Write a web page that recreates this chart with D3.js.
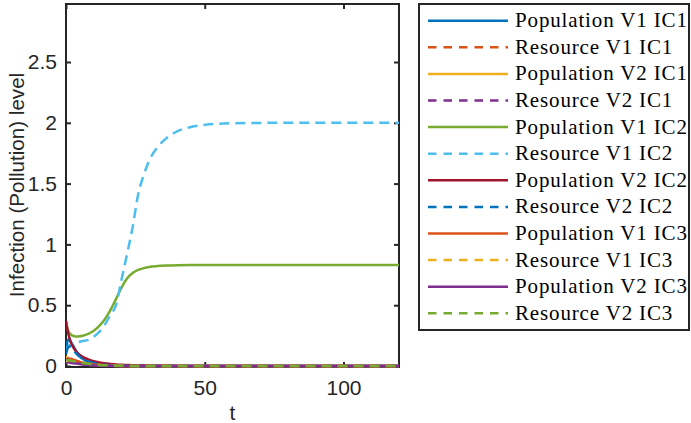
<!DOCTYPE html>
<html><head><meta charset="utf-8">
<script src="https://cdn.jsdelivr.net/npm/d3@7"></script>
<style>body{margin:0;background:#fff}svg{display:block}</style>
</head><body><div id="chart"></div>
<script>
const T = [0, 0.5, 1, 2, 3, 4, 5, 6, 8, 10, 12, 14, 16, 18, 20, 22, 24, 26, 28, 30, 33, 36, 40, 45, 50, 60, 80, 100, 120];
const popV1IC1 = [0.12,0.20,0.22,0.19,0.15,0.11,0.08,0.06,0.035,0.02, 0.012,0.008,0.005,0.003,0.002,0.001,0.001,0,0,0, 0,0,0,0,0,0,0,0,0];
const resV1IC1 = [0.06,0.055,0.05,0.045,0.04,0.035,0.03,0.026,0.02,0.015, 0.011,0.008,0.006,0.004,0.003,0.002,0.001,0.001,0,0, 0,0,0,0,0,0,0,0,0];
const popV2IC1 = [0.08,0.07,0.062,0.048,0.037,0.029,0.023,0.018,0.012,0.008, 0.005,0.003,0.002,0.001,0.001,0,0,0,0,0, 0,0,0,0,0,0,0,0,0];
const resV2IC1 = [0.03,0.03,0.028,0.025,0.022,0.019,0.017,0.015,0.011,0.008, 0.006,0.004,0.003,0.002,0.001,0.001,0,0,0,0, 0,0,0,0,0,0,0,0,0];
const popV1IC2 = [0.37,0.31,0.28,0.255,0.245,0.242,0.244,0.249,0.265,0.29, 0.33,0.385,0.46,0.55,0.645,0.72,0.765,0.79,0.805,0.815, 0.822,0.826,0.829,0.83,0.83,0.83,0.83,0.83,0.83];
const resV1IC2 = [0.13,0.15,0.165,0.18,0.19,0.195,0.2,0.205,0.215,0.24, 0.28,0.34,0.42,0.5,0.71,0.92,1.14,1.41,1.57,1.69, 1.8,1.87,1.93,1.965,1.983,1.996,2.0,2.0,2.0];
const popV2IC2 = [0.37,0.3,0.25,0.18,0.14,0.11,0.09,0.075,0.055,0.04, 0.03,0.022,0.017,0.013,0.01,0.008,0.006,0.005,0.004,0.003, 0.002,0.002,0.001,0.001,0,0,0,0,0];
const resV2IC2 = [0.1,0.14,0.16,0.15,0.12,0.095,0.075,0.058,0.038,0.025, 0.016,0.01,0.007,0.005,0.003,0.002,0.001,0.001,0,0, 0,0,0,0,0,0,0,0,0];
const popV1IC3 = [0.05,0.058,0.062,0.058,0.05,0.042,0.034,0.028,0.019,0.012, 0.008,0.005,0.003,0.002,0.001,0.001,0,0,0,0, 0,0,0,0,0,0,0,0,0];
const resV1IC3 = [0.04,0.042,0.043,0.04,0.036,0.031,0.027,0.023,0.017,0.012, 0.008,0.006,0.004,0.003,0.002,0.001,0.001,0,0,0, 0,0,0,0,0,0,0,0,0];
const popV2IC3 = [0.06,0.052,0.045,0.035,0.027,0.021,0.016,0.013,0.008,0.005, 0.003,0.002,0.001,0.001,0,0,0,0,0,0, 0,0,0,0,0,0,0,0,0];
const resV2IC3 = [0.05,0.049,0.047,0.043,0.038,0.033,0.029,0.025,0.018,0.013, 0.009,0.006,0.004,0.003,0.002,0.001,0.001,0,0,0, 0,0,0,0,0,0,0,0,0];

const seriesNames = ["Population V1 IC1","Resource V1 IC1","Population V2 IC1","Resource V2 IC1",
  "Population V1 IC2","Resource V1 IC2","Population V2 IC2","Resource V2 IC2",
  "Population V1 IC3","Resource V1 IC3","Population V2 IC3","Resource V2 IC3"];
const seriesValues = [popV1IC1,resV1IC1,popV2IC1,resV2IC1,popV1IC2,resV1IC2,popV2IC2,resV2IC2,popV1IC3,resV1IC3,popV2IC3,resV2IC3];
const seriesColors = ["#0072BD","#D95319","#EDB120","#7E2F8E","#77AC30","#4DBEEE","#A2142F","#0072BD","#D95319","#EDB120","#7E2F8E","#77AC30"];
const seriesDashed = [false,true,false,true,false,true,false,true,false,true,false,true];

const xTicks = [0, 50, 100];
const xTickLabels = ["0","50","100"];
const yTicks = [0, 0.5, 1, 1.5, 2, 2.5];
const yTickLabels = ["0","0.5","1","1.5","2","2.5"];
const xDomain = [0, 120];
const yDomain = [0, 2.977];

const W = 691, H = 423;
const m = {left: 66, top: 4, right: 399, bottom: 366};
const axisColor = "#262626";

const svg = d3.select("#chart").append("svg").attr("width", W).attr("height", H);
const x = d3.scaleLinear().domain(xDomain).range([m.left, m.right]);
const y = d3.scaleLinear().domain(yDomain).range([m.bottom, m.top]);

// axes frame
svg.append("rect").attr("x", m.left).attr("y", m.top).attr("width", m.right - m.left).attr("height", m.bottom + 1 - m.top)
  .attr("fill", "none").attr("stroke", axisColor).attr("stroke-width", 2);

function styleAxis(g){
  g.select(".domain").remove();
  g.selectAll(".tick line").attr("stroke", axisColor).attr("stroke-width", 2);
  g.selectAll(".tick text").attr("fill", axisColor).attr("font-family", "'Liberation Sans', Arial, sans-serif").attr("font-size", 21);
}
const tl = 5;
svg.append("g").attr("transform", `translate(0,${m.bottom + 1})`)
  .call(d3.axisBottom(x).tickValues(xTicks).tickFormat((d,i)=>xTickLabels[i]).tickSize(-tl).tickPadding(13))
  .call(styleAxis);
svg.append("g").attr("transform", `translate(0,${m.top})`)
  .call(d3.axisTop(x).tickValues(xTicks).tickFormat("").tickSize(-tl))
  .call(styleAxis);
svg.append("g").attr("transform", `translate(${m.left},0)`)
  .call(d3.axisLeft(y).tickValues(yTicks).tickFormat((d,i)=>yTickLabels[i]).tickSize(-tl).tickPadding(9))
  .call(styleAxis);
svg.append("g").attr("transform", `translate(${m.right},0)`)
  .call(d3.axisRight(y).tickValues(yTicks).tickFormat("").tickSize(-tl))
  .call(styleAxis);

// axis labels
svg.append("text").attr("x", (m.left + m.right)/2).attr("y", 420).attr("text-anchor", "middle")
  .attr("font-family", "'Liberation Sans', Arial, sans-serif").attr("font-size", 21).attr("fill", axisColor).text("t");
svg.append("text").attr("transform", `translate(24,${(m.top + m.bottom)/2}) rotate(-90)`).attr("text-anchor", "middle")
  .attr("font-family", "'Liberation Sans', Arial, sans-serif").attr("font-size", 20.6).attr("fill", axisColor)
  .text("Infection (Pollution) level");

// clip
svg.append("clipPath").attr("id", "clip").append("rect")
  .attr("x", m.left).attr("y", m.top).attr("width", m.right - m.left).attr("height", m.bottom + 2 - m.top);

const line = d3.line().x((d,i)=>x(T[i])).y(d=>y(d)).curve(d3.curveMonotoneX);
const plot = svg.append("g").attr("clip-path", "url(#clip)");
seriesValues.forEach((vals, k) => {
  plot.append("path").attr("d", line(vals)).attr("fill", "none")
    .attr("stroke", seriesColors[k]).attr("stroke-width", 2.5)
    .attr("stroke-dasharray", seriesDashed[k] ? "10,6" : null);
});

// legend
const lg = svg.append("g");
const lx = 419, ly = 4, lw = 270, lh = 326;
lg.append("rect").attr("x", lx).attr("y", ly).attr("width", lw).attr("height", lh)
  .attr("fill", "#fff").attr("stroke", axisColor).attr("stroke-width", 2);
seriesNames.forEach((name, k) => {
  const yy = 20.7 + k * 26.6;
  lg.append("line").attr("x1", 428).attr("x2", 508).attr("y1", yy).attr("y2", yy)
    .attr("stroke", seriesColors[k]).attr("stroke-width", 2.5)
    .attr("stroke-dasharray", seriesDashed[k] ? "8.5,7" : null);
  lg.append("text").attr("x", 515).attr("y", yy + 6.5)
    .attr("font-family", "'Liberation Serif', 'Times New Roman', serif").attr("font-size", 21)
    .attr("letter-spacing", 0.85).attr("fill", "#000").text(name);
});
</script></body></html>
